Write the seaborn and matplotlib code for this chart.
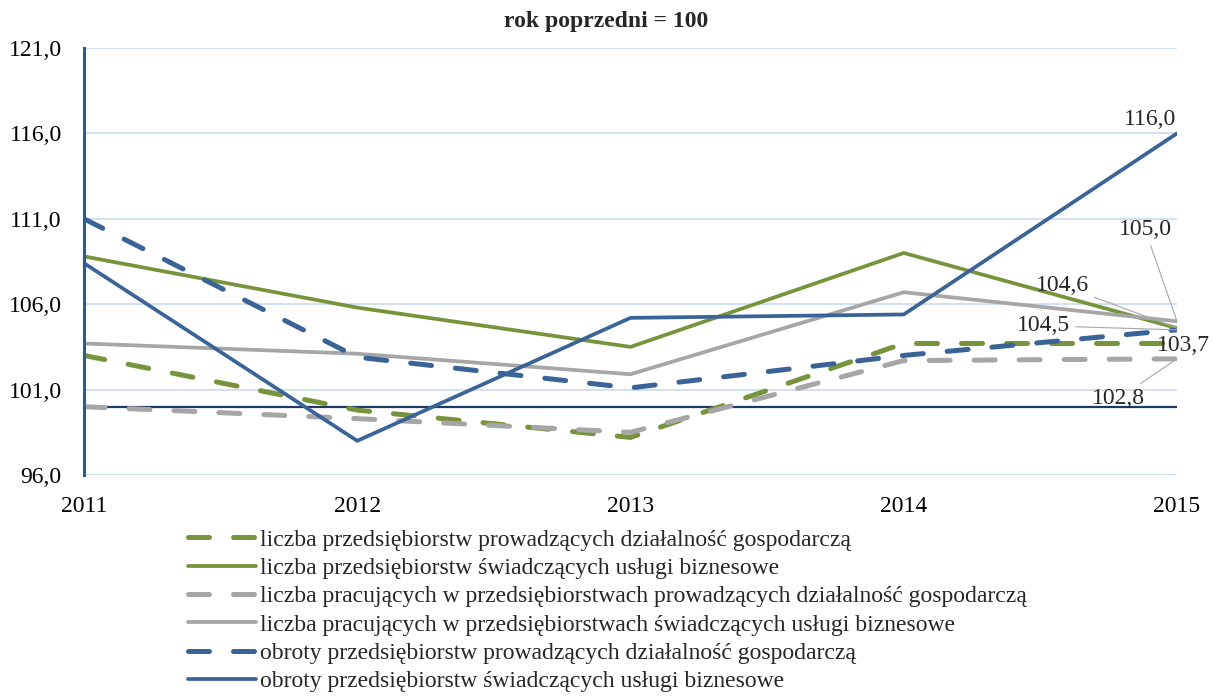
import numpy as np
import pandas as pd
import seaborn as sns
from matplotlib import pyplot as plt

years = [2011, 2012, 2013, 2014, 2015]

labels = ['liczba przedsiębiorstw prowadzących działalność gospodarczą',
          'liczba przedsiębiorstw świadczących usługi biznesowe',
          'liczba pracujących w przedsiębiorstwach prowadzących działalność gospodarczą',
          'liczba pracujących w przedsiębiorstwach świadczących usługi biznesowe',
          'obroty przedsiębiorstw prowadzących działalność gospodarczą',
          'obroty przedsiębiorstw świadczących usługi biznesowe']

firms_all = [103.0, 99.8, 98.2, 103.7, 103.7]
firms_bus = [108.8, 105.8, 103.5, 109.0, 104.6]
workers_all = [100.0, 99.3, 98.5, 102.7, 102.8]
workers_bus = [103.7, 103.1, 101.9, 106.7, 105.0]
turnover_all = [111.0, 102.9, 101.1, 103.0, 104.5]
turnover_bus = [108.4, 98.0, 105.2, 105.4, 116.0]

series = [firms_all, firms_bus, workers_all, workers_bus, turnover_all, turnover_bus]

GREEN = '#77933c'
GREY = '#a6a6a6'
BLUE = '#3a6498'
colors = [GREEN, GREEN, GREY, GREY, BLUE, BLUE]
dashed = [True, False, True, False, True, False]

FS = 17

sns.set_style('white')
plt.rcParams['font.family'] = ['Liberation Serif', 'DejaVu Serif']

fig = plt.figure(figsize=(12.12, 6.98), dpi=100)
ax = fig.add_axes([84 / 1212, 1 - 475 / 698, (1177 - 84) / 1212, (475 - 48) / 698])

for vals, lab, col, d in zip(series, labels, colors, dashed):
    df = pd.DataFrame({'rok': years, 'wartosc': vals})
    if d:
        sns.lineplot(data=df, x='rok', y='wartosc', ax=ax, color=col, linewidth=3.6,
                     linestyle=(0, (4.2, 4.8)), dash_capstyle='round', label=lab, zorder=3)
    else:
        sns.lineplot(data=df, x='rok', y='wartosc', ax=ax, color=col, linewidth=2.7,
                     label=lab, zorder=3)

ax.axhline(100, color='#1f3864', linewidth=1.6, zorder=2)

ax.set_xlim(2011, 2015)
ax.set_ylim(96, 121)
yt = np.arange(96, 122, 5)
ax.set_yticks(yt)
ax.set_yticklabels([f'{v:.1f}'.replace('.', ',') for v in yt])
ax.set_xticks(years)
ax.set_xticklabels([str(y) for y in years])
ax.tick_params(axis='both', labelsize=FS, length=0, colors='black')
ax.tick_params(axis='x', pad=15)
ax.tick_params(axis='y', pad=16)
ax.set_xlabel('')
ax.set_ylabel('')
ax.grid(axis='y', color='#c5d7ee', linewidth=1.1)
ax.grid(axis='x', visible=False)
for s in ['top', 'right', 'bottom']:
    ax.spines[s].set_visible(False)
ax.spines['left'].set_color('#2f5a8f')
ax.spines['left'].set_linewidth(2.2)
ax.spines['left'].set_zorder(4)

# etykiety danych dla 2015
lead = dict(arrowstyle='-', color='#a6a6a6', lw=0.8, shrinkA=2, shrinkB=0)
ann = dict(textcoords='offset pixels', fontsize=FS, ha='center', va='center')
ax.annotate('116,0', (2015, turnover_bus[-1]), xytext=(-27, 14), **ann)
ax.annotate('105,0', (2015, workers_bus[-1]), xytext=(-32, 92), arrowprops=lead, **ann)
ax.annotate('104,6', (2015, firms_bus[-1]), xytext=(-115, 43), arrowprops=lead, **ann)
ax.annotate('104,5', (2015, turnover_all[-1]), xytext=(-134, 4), arrowprops=lead, **ann)
ax.annotate('103,7', (2015, firms_all[-1]), xytext=(6, -2), **ann)
ax.annotate('102,8', (2015, workers_all[-1]), xytext=(-59, -40), arrowprops=lead, **ann)

fig.text(0.5, 1 - 22 / 698, 'rok poprzedni = 100', ha='center', va='center',
         fontsize=FS, fontweight='bold')

handles, labs = ax.get_legend_handles_labels()
ax.get_legend().remove()
fig.legend(handles, labs, loc='upper left', bbox_to_anchor=(188 / 1212, 1 - 529 / 698),
           frameon=False, fontsize=FS, handlelength=2.9, handletextpad=0.17,
           labelspacing=0.29, borderpad=0, borderaxespad=0)

fig.savefig('out.png', dpi=100)
